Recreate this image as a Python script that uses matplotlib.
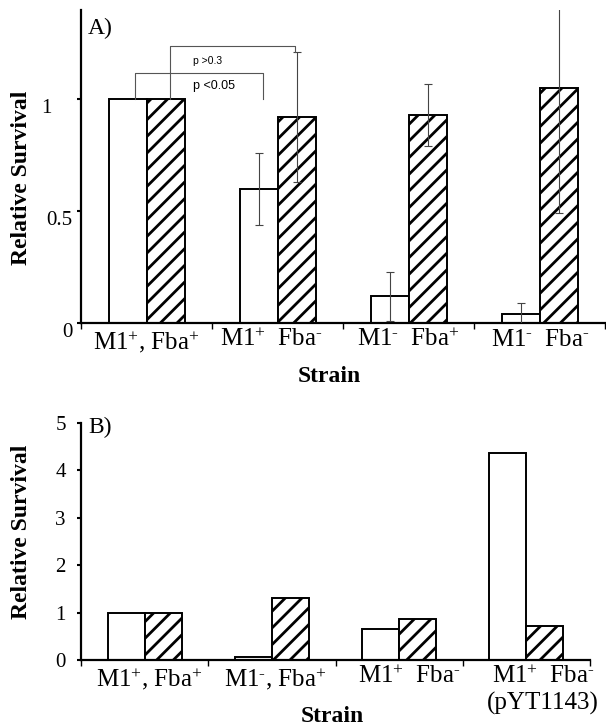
import numpy as np
import matplotlib.pyplot as plt

plt.rcParams['font.family'] = ['Liberation Serif', 'DejaVu Serif']
plt.rcParams['mathtext.fontset'] = 'custom'
plt.rcParams['mathtext.rm'] = 'Liberation Serif'
plt.rcParams['mathtext.it'] = 'Liberation Serif:italic'
plt.rcParams['mathtext.bf'] = 'Liberation Serif:bold'
plt.rcParams['hatch.linewidth'] = 2.0

P = r'$^{+}$'
M = r'$^{\text{-}}$'

# Panel A data
strains_a = ['M1' + P + ', Fba' + P, 'M1' + P + '  Fba' + M,
             'M1' + M + '  Fba' + P, 'M1' + M + '  Fba' + M]
m1_a = [1.0, 0.60, 0.12, 0.04]
fba_a = [1.0, 0.92, 0.93, 1.05]
m1_err_a = [0, 0.16, 0.11, 0.05]
fba_err_a = [0, 0.29, 0.14, 0.56]
label_shift_a = [0, -0.05, 0, 0.01]

# significance brackets (x left, x right, y top, y left foot, y right foot)
brackets = [(-0.09, 0.89, 1.12, 1.0, 1.0), (0.18, 1.13, 1.24, 1.0, 1.21)]
pvals = ['p <0.05', 'p >0.3']
pval_pos = [(0.355, 1.06, 9), (0.355, 1.17, 7.5)]

# Panel B data
strains_b = ['M1' + P + ', Fba' + P, 'M1' + M + ', Fba' + P,
             'M1' + P + '  Fba' + M, 'M1' + P + '  Fba' + M + '\n(pYT1143)']
m1_b = [1.0, 0.07, 0.65, 4.37]
fba_b = [1.0, 1.30, 0.86, 0.72]
label_shift_b = [0.035, 0.03, 0.08, 0.13]

w = 0.29


def draw_bars(ax, m1, fba):
    x = np.arange(len(m1))
    ax.bar(x - w / 2, m1, w, color='white', edgecolor='black', lw=1.4, zorder=2)
    ax.bar(x + w / 2, fba, w, color='white', edgecolor='black', lw=1.4,
           hatch='//', zorder=2)
    return x


def style_axes(ax, ymax, labels, shift):
    n = len(labels)
    ax.set_xlim(-0.5, n - 0.5)
    ax.set_ylim(0, ymax)
    for s in ['top', 'right']:
        ax.spines[s].set_visible(False)
    for s in ['left', 'bottom']:
        ax.spines[s].set_linewidth(1.6)
    ax.set_xticks(np.arange(n) + np.array(shift), labels, fontsize=18)
    ax.set_xticks(np.arange(n + 1) - 0.5, minor=True)
    ax.tick_params(axis='x', which='major', length=0, pad=4)
    ax.tick_params(axis='x', which='minor', length=4, width=1, direction='out')


fig = plt.figure(figsize=(6.06, 7.26), dpi=100)

# ---- Panel A ----
axA = fig.add_axes([0.1337, 0.5551, 0.8647, 0.4311])
x = draw_bars(axA, m1_a, fba_a)
i_err = [i for i in range(len(x)) if m1_err_a[i] > 0]
axA.errorbar(x[i_err] - w / 2, np.array(m1_a)[i_err], yerr=np.array(m1_err_a)[i_err],
             fmt='none', ecolor='#444444', elinewidth=0.8, capsize=3, capthick=0.8, zorder=3)
axA.errorbar(x[i_err] + w / 2, np.array(fba_a)[i_err], yerr=np.array(fba_err_a)[i_err],
             fmt='none', ecolor='#444444', elinewidth=0.8, capsize=3, capthick=0.8, zorder=3)
for (x0, x1, ytop, yl, yr) in brackets:
    axA.plot([x0, x0, x1, x1], [yl, ytop, ytop, yr], color='#555555', lw=0.8,
             clip_on=False, zorder=3)
for txt, (tx, ty, fs) in zip(pvals, pval_pos):
    axA.text(tx, ty, txt, fontsize=fs, family='Liberation Sans', va='center', ha='left')

style_axes(axA, 1.4, strains_a, label_shift_a)
axA.set_yticks([0, 0.5, 1], ['0', '0.5', '1'], fontsize=15)
axA.tick_params(axis='y', length=3, width=1.5, pad=3)
for lbl in axA.get_yticklabels():
    lbl.set_va('top')
axA.get_yticklabels()[2].set_x(-0.04)
axA.set_ylabel('Relative Survival', fontsize=17, fontweight='bold')
axA.yaxis.set_label_coords(-0.0935, 0.463)
axA.set_xlabel('Strain', fontsize=17, fontweight='bold')
axA.xaxis.set_label_coords(0.473, -0.138)
axA.text(0.012, 0.975, 'A)', transform=axA.transAxes, fontsize=17, va='top', ha='left')

# ---- Panel B ----
axB = fig.add_axes([0.1337, 0.0909, 0.8399, 0.3265])
draw_bars(axB, m1_b, fba_b)
style_axes(axB, 5, strains_b, label_shift_b)
axB.set_yticks(range(6), [str(v) for v in range(6)], fontsize=15)
axB.tick_params(axis='y', length=3, width=1.5, pad=8)
axB.set_ylabel('Relative Survival', fontsize=17, fontweight='bold')
axB.yaxis.set_label_coords(-0.096, 0.54)
axB.set_xlabel('Strain', fontsize=17, fontweight='bold')
axB.xaxis.set_label_coords(0.493, -0.195)
axB.text(0.014, 1.025, 'B)', transform=axB.transAxes, fontsize=17, va='top', ha='left')

fig.savefig('out.png', dpi=100)
